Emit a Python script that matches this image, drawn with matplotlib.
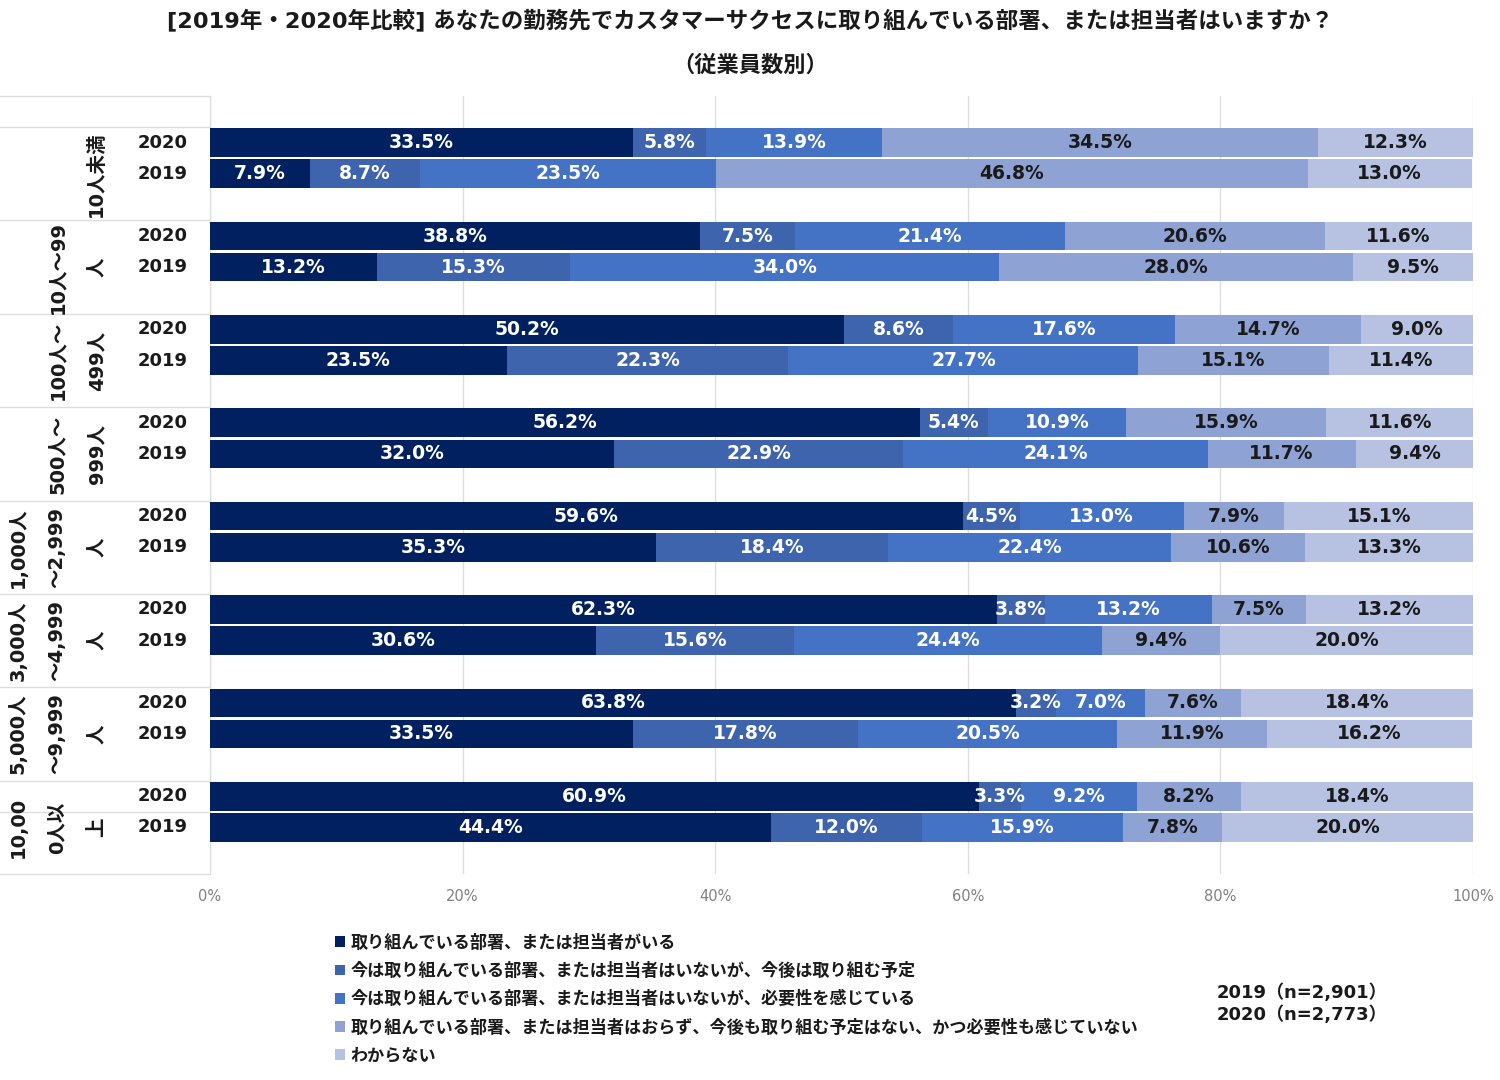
import matplotlib
matplotlib.use('Agg')
import matplotlib.pyplot as plt
from matplotlib.patches import Patch
import matplotlib.transforms as mtransforms
import numpy as np

plt.rcParams['font.family'] = ['DejaVu Sans', 'Noto Sans CJK JP']

# データ
groups = ['10人未満', '10人～99\n人', '100人～\n499人', '500人～\n999人',
          '1,000人\n～2,999\n人', '3,000人\n～4,999\n人', '5,000人\n～9,999\n人',
          '10,00\n0人以\n上']
years = ['2020', '2019']
series = ['取り組んでいる部署、または担当者がいる',
          '今は取り組んでいる部署、または担当者はいないが、今後は取り組む予定',
          '今は取り組んでいる部署、または担当者はいないが、必要性を感じている',
          '取り組んでいる部署、または担当者はおらず、今後も取り組む予定はない、かつ必要性も感じていない',
          'わからない']
# 各行: 2020, 2019 の順
values_2020 = [
    [33.5, 5.8, 13.9, 34.5, 12.3],
    [38.8, 7.5, 21.4, 20.6, 11.6],
    [50.2, 8.6, 17.6, 14.7, 9.0],
    [56.2, 5.4, 10.9, 15.9, 11.6],
    [59.6, 4.5, 13.0, 7.9, 15.1],
    [62.3, 3.8, 13.2, 7.5, 13.2],
    [63.8, 3.2, 7.0, 7.6, 18.4],
    [60.9, 3.3, 9.2, 8.2, 18.4],
]
values_2019 = [
    [7.9, 8.7, 23.5, 46.8, 13.0],
    [13.2, 15.3, 34.0, 28.0, 9.5],
    [23.5, 22.3, 27.7, 15.1, 11.4],
    [32.0, 22.9, 24.1, 11.7, 9.4],
    [35.3, 18.4, 22.4, 10.6, 13.3],
    [30.6, 15.6, 24.4, 9.4, 20.0],
    [33.5, 17.8, 20.5, 11.9, 16.2],
    [44.4, 12.0, 15.9, 7.8, 20.0],
]
colors = ['#002060', '#3F64AE', '#4472C4', '#8EA2D4', '#B7C2E3']
text_colors = ['white', 'white', 'white', '#1a1a1a', '#1a1a1a']
xticks = [0, 20, 40, 60, 80, 100]

fig = plt.figure(figsize=(15, 10.8), dpi=100)
ax = fig.add_axes([210 / 1500, 1 - 874 / 1080, 1263 / 1500, 778 / 1080])

n_rows = 1 + 3 * len(groups)
ax.set_ylim(n_rows, 0)
ax.set_xlim(0, 100)

for g in range(len(groups)):
    for k, vals in enumerate([values_2020[g], values_2019[g]]):
        yc = 1 + 3 * g + k + 0.5
        left = 0
        for s, v in enumerate(vals):
            ax.barh(yc, v, left=left, height=0.92, color=colors[s],
                    edgecolor='none', zorder=3)
            ax.text(left + v / 2, yc, f'{v:.1f}%', ha='center', va='center',
                    color=text_colors[s], fontsize=13.5, fontweight='bold', zorder=4)
            left += v

# グリッド
ax.set_xticks(xticks)
ax.set_xticklabels([f'{t}%' for t in xticks], color='#808080', fontsize=10.5)
ax.tick_params(axis='x', length=0, pad=11)
ax.set_yticks([])
ax.grid(axis='x', color='#DDDDDD', linewidth=1, zorder=0)
for sp in ['top', 'right', 'bottom']:
    ax.spines[sp].set_visible(False)
ax.spines['left'].set_color('#DDDDDD')

# 左側の表
trans = mtransforms.blended_transform_factory(ax.transAxes, ax.transData)
x0 = -210 / 1263
lines_y = [0] + [1 + 3 * g for g in range(len(groups))] + [3 * len(groups) - 1, n_rows]
for yl in lines_y:
    ax.plot([x0, 0], [yl, yl], transform=trans, color='#DDDDDD', lw=1,
            clip_on=False, zorder=1)

for g, name in enumerate(groups):
    ax.text(-104 / 1263, 1 + 3 * g + 1.5, name, transform=trans, rotation=90,
            ha='right', va='center', fontsize=14, fontweight='bold',
            multialignment='center', linespacing=2.35, color='#1a1a1a')
    for k, yr in enumerate(years):
        ax.text(-22 / 1263, 1 + 3 * g + k + 0.5, yr, transform=trans,
                ha='right', va='center', fontsize=13, fontweight='bold',
                color='#1a1a1a')

# タイトル
fig.text(0.5, 1 - 20 / 1080,
         '[2019年・2020年比較] あなたの勤務先でカスタマーサクセスに取り組んでいる部署、または担当者はいますか？',
         ha='center', va='center', fontsize=16.2, fontweight='bold', color='#1a1a1a')
fig.text(0.5, 1 - 65 / 1080, '（従業員数別）', ha='center', va='center',
         fontsize=16, fontweight='bold', color='#1a1a1a')

# 凡例
handles = [Patch(facecolor=c, edgecolor='none') for c in colors]
leg = fig.legend(handles, series, loc='upper left',
                 bbox_to_anchor=(328 / 1500, 1 - 927 / 1080), frameon=False,
                 fontsize=12.3, handlelength=0.6, handleheight=0.6,
                 handletextpad=0.3, labelspacing=0.6, borderaxespad=0)
for t in leg.get_texts():
    t.set_fontweight('bold')
    t.set_color('#1a1a1a')

fig.text(1302 / 1500, 1 - 993 / 1080, '2019（n=2,901）', ha='center', va='center',
         fontsize=13, fontweight='bold', color='#1a1a1a')
fig.text(1302 / 1500, 1 - 1015 / 1080, '2020（n=2,773）', ha='center', va='center',
         fontsize=13, fontweight='bold', color='#1a1a1a')

fig.savefig('out.png', dpi=100, facecolor='white')
